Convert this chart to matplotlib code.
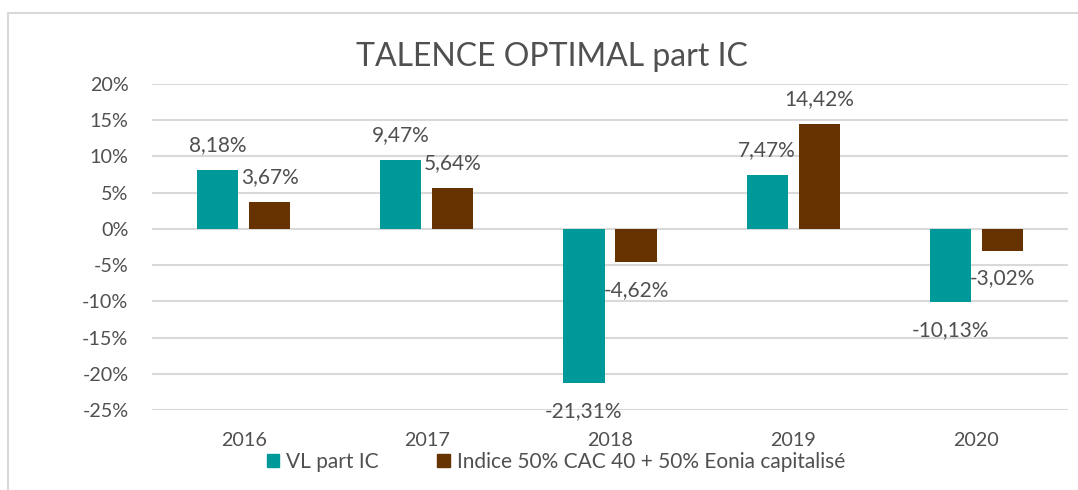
import matplotlib.pyplot as plt
from matplotlib.lines import Line2D
from matplotlib.patches import Patch
import numpy as np

# Data
years = ['2016', '2017', '2018', '2019', '2020']
vl_part_ic = [8.18, 9.47, -21.31, 7.47, -10.13]
indice = [3.67, 5.64, -4.62, 14.42, -3.02]
series_names = ['VL part IC', 'Indice 50% CAC 40 + 50% Eonia capitalisé']
yticks = [20, 15, 10, 5, 0, -5, -10, -15, -20, -25]

teal = '#009999'
brown = '#663300'
grey_txt = '#505050'
grid_col = '#D9D9D9'

plt.rcParams['font.family'] = ['Lato', 'DejaVu Sans']

fig = plt.figure(figsize=(10.78, 4.9), dpi=100)
ax = fig.add_axes([152 / 1078, 1 - 410 / 490, (1068 - 152) / 1078, (410 - 84) / 490])

x = np.arange(len(years))
w = 0.224
off = 0.142
b1 = ax.bar(x - off, vl_part_ic, w, color=teal, zorder=3)
b2 = ax.bar(x + off, indice, w, color=brown, zorder=3)

# data labels
def fmt(v):
    return ('%.2f%%' % v).replace('.', ',')

for bars, vals in [(b1, vl_part_ic), (b2, indice)]:
    for rect, v in zip(bars, vals):
        cx = rect.get_x() + rect.get_width() / 2
        dy = 18 if v >= 0 else -20
        ax.annotate(fmt(v), (cx, v), xytext=(0, dy), textcoords='offset points',
                    ha='center', va='center', fontsize=15, color=grey_txt, zorder=4)

ax.set_xlim(-0.5, len(years) - 0.5)
ax.set_ylim(-25, 20)
ax.set_yticks(yticks)
ax.set_yticklabels(['%d%%' % t for t in yticks])
ax.set_xticks(x)
ax.set_xticklabels(years)
ax.tick_params(axis='both', length=0, labelsize=14.2, labelcolor=grey_txt)
ax.tick_params(axis='y', pad=17)
ax.tick_params(axis='x', pad=16)
ax.grid(axis='y', color=grid_col, linewidth=1.5, zorder=0)
for s in ax.spines.values():
    s.set_visible(False)

fig.text(552 / 1078, 1 - 57 / 490, 'TALENCE OPTIMAL part IC', ha='center', va='center',
         fontsize=23, color=grey_txt)

handles = [Patch(color=teal), Patch(color=brown)]
fig.legend(handles, series_names, loc='center', bbox_to_anchor=(556 / 1078, 1 - 462 / 490),
           ncol=2, frameon=False, fontsize=15, labelcolor=grey_txt,
           handlelength=0.6, handleheight=0.6, handletextpad=0.35, columnspacing=2.8)

# outer chart border (cropped on right and bottom)
fig.add_artist(Line2D([8 / 1078, 8 / 1078], [0, 1 - 13 / 490], color=grid_col, linewidth=1.5))
fig.add_artist(Line2D([8 / 1078, 1], [1 - 13 / 490, 1 - 13 / 490], color=grid_col, linewidth=1.5))

fig.savefig('out.png', dpi=100)
